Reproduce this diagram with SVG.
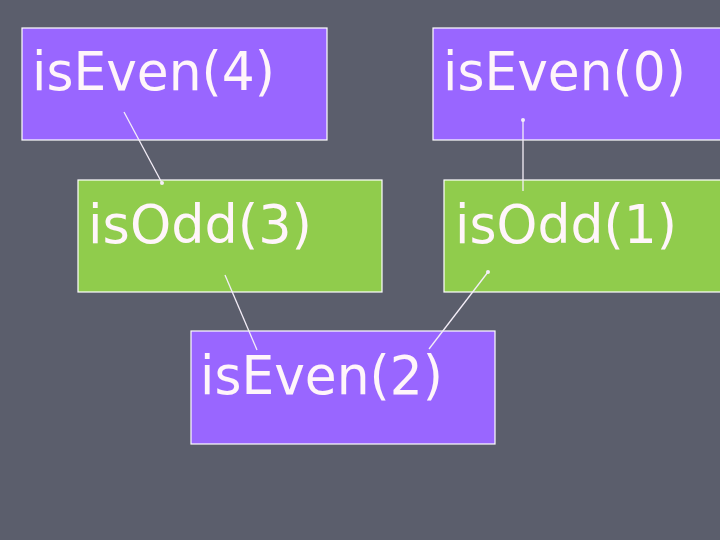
<svg xmlns="http://www.w3.org/2000/svg" width="720" height="540" viewBox="0 0 720 540">
  <style>
    .even { fill: #9966ff; stroke: #ffffff; stroke-width: 1.2; }
    .odd { fill: #90cc4c; stroke: #ffffff; stroke-width: 1.2; }
    .lbl { font-family: "DejaVu Sans", "Liberation Sans", sans-serif; font-size: 54px; fill: #fff5fa; }
    .conn line { stroke: #f4eef8; stroke-width: 1.3; }
    .conn circle { fill: #f4eef8; }
  </style>
  <rect x="0" y="0" width="720" height="540" fill="#5b5e6c"/>
  <g id="n-even4">
    <rect class="even" x="22" y="28" width="305" height="112"/>
    <text class="lbl" x="32" y="90" textLength="243" lengthAdjust="spacingAndGlyphs">isEven(4)</text>
  </g>
  <g id="n-even0">
    <rect class="even" x="433" y="28" width="300" height="112"/>
    <text class="lbl" x="443" y="90" textLength="243" lengthAdjust="spacingAndGlyphs">isEven(0)</text>
  </g>
  <g id="n-odd3">
    <rect class="odd" x="78" y="180" width="304" height="112"/>
    <text class="lbl" x="88" y="243" textLength="224" lengthAdjust="spacingAndGlyphs">isOdd(3)</text>
  </g>
  <g id="n-odd1">
    <rect class="odd" x="444" y="180" width="290" height="112"/>
    <text class="lbl" x="455" y="243" textLength="222" lengthAdjust="spacingAndGlyphs">isOdd(1)</text>
  </g>
  <g id="n-even2">
    <rect class="even" x="191" y="331" width="304" height="113"/>
    <text class="lbl" x="200" y="394" textLength="243" lengthAdjust="spacingAndGlyphs">isEven(2)</text>
  </g>
  <g id="connectors" class="conn">
    <line x1="124" y1="112" x2="162" y2="183"/>
    <circle cx="162" cy="183" r="2"/>
    <line x1="523" y1="120" x2="523" y2="191"/>
    <circle cx="523" cy="120" r="2"/>
    <line x1="225" y1="275" x2="257" y2="350"/>
    <line x1="488" y1="272" x2="429" y2="349"/>
    <circle cx="488" cy="272" r="2"/>
  </g>
</svg>
